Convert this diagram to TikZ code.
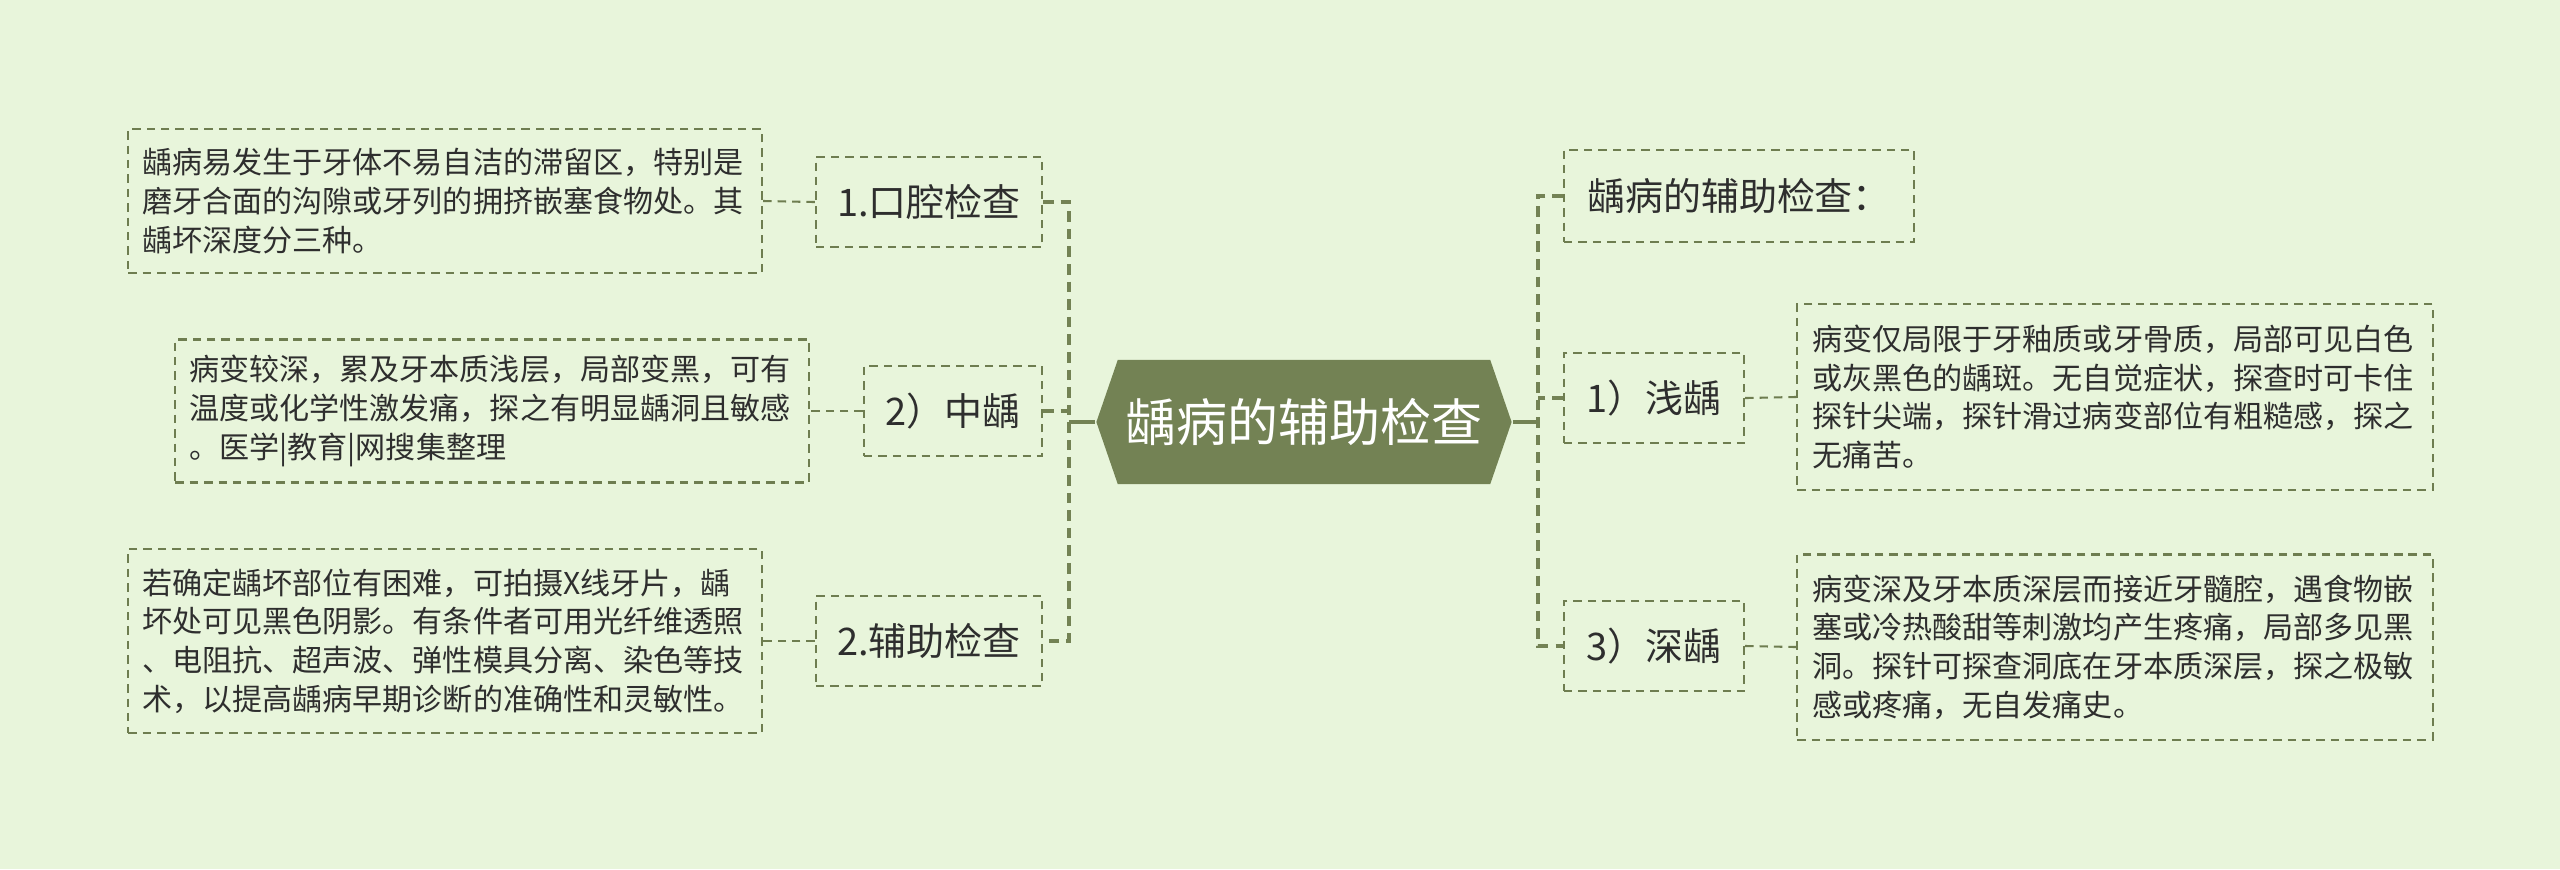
\documentclass[tikz,border=0pt]{standalone}
\usepackage{fontspec}
\setmainfont{Noto Sans CJK SC}
\usepackage{xcolor}
\usepackage{tikz}
\usetikzlibrary{calc,shapes.symbols}
\definecolor{bgcol}{HTML}{E8F5DB}
\definecolor{olive}{HTML}{738254}
\definecolor{linecol}{HTML}{6E7D50}
\definecolor{txtcol}{HTML}{2E2E2E}

\begin{document}
\begin{tikzpicture}[x=0.01cm,y=-0.01cm,line width=0.6pt,
    dashbox/.style={draw=linecol,dash pattern=on 2.4pt off 1.7pt,inner sep=0pt,text=txtcol,align=center},
    topic/.style={dashbox,minimum height=0.90cm,font=\fontsize{10.8}{13}\selectfont},
    note/.style={dashbox,align=left,inner xsep=0.14cm,text width=6.05cm,font=\fontsize{8.55}{11}\selectfont},
    link/.style={draw=linecol,dash pattern=on 2.4pt off 1.7pt},
    spine/.style={draw=olive,line width=1.3pt,dash pattern=on 3pt off 2pt}]
    \fill[bgcol] (0,0) rectangle (2560,869);
    \useasboundingbox (0,0) rectangle (2560,869);
    % centre
    \node[signal,signal to=west and east,signal pointer angle=142,fill=olive,
      minimum width=4.15cm,minimum height=1.24cm,inner sep=0pt,text=white,
      font=\fontsize{14.5}{17}\selectfont] (root) at (1304,422) {龋病的辅助检查};
    % left side
    \node[topic,minimum width=2.26cm] (k1) at (929,202) {1.口腔检查};
    \node[topic,minimum width=1.78cm] (k2) at (953,411) {2）中龋};
    \node[topic,minimum width=2.26cm] (k3) at (929,641) {2.辅助检查};
    \node[note,minimum height=1.44cm] (d1) at (445,201) {龋病易发生于牙体不易自洁的滞留区，特别是\\磨牙合面的沟隙或牙列的拥挤嵌塞食物处。其\\龋坏深度分三种。};
    \node[note,minimum height=1.43cm] (d2) at (492,411) {病变较深，累及牙本质浅层，局部变黑，可有\\温度或化学性激发痛，探之有明显龋洞且敏感\\。医学|教育|网搜集整理};
    \node[note,minimum height=1.84cm] (d3) at (445,641) {若确定龋坏部位有困难，可拍摄X线牙片，龋\\坏处可见黑色阴影。有条件者可用光纤维透照\\、电阻抗、超声波、弹性模具分离、染色等技\\术，以提高龋病早期诊断的准确性和灵敏性。};
    % right side
    \node[topic,minimum width=3.50cm,minimum height=0.92cm] (r0) at (1739,196) {龋病的辅助检查：};
    \node[topic,minimum width=1.80cm] (r1) at (1654,398) {1）浅龋};
    \node[topic,minimum width=1.80cm] (r3) at (1654,646) {3）深龋};
    \node[note,minimum height=1.86cm,inner xsep=0.15cm] (e1) at (2115,397) {病变仅局限于牙釉质或牙骨质，局部可见白色\\或灰黑色的龋斑。无自觉症状，探查时可卡住\\探针尖端，探针滑过病变部位有粗糙感，探之\\无痛苦。};
    \node[note,minimum height=1.85cm,inner xsep=0.15cm] (e3) at (2115,647) {病变深及牙本质深层而接近牙髓腔，遇食物嵌\\塞或冷热酸甜等刺激均产生疼痛，局部多见黑\\洞。探针可探查洞底在牙本质深层，探之极敏\\感或疼痛，无自发痛史。};
    % connectors
    \coordinate (lsp) at (1069,422);
    \coordinate (rsp) at (1538,422);
    \draw[olive,line width=1.3pt] (root.west) -- (lsp);
    \draw[olive,line width=1.3pt] (root.east) -- (rsp);
    \draw[spine] (k1.east) -| (lsp) |- (k3.east);
    \draw[spine] (k2.east) -- (k2.east -| lsp);
    \draw[spine] (r0.west) -| (rsp) |- (r3.west);
    \draw[spine] (r1.west) -- (r1.west -| rsp);
    \draw[link] (k1.west) -- (d1.east);
    \draw[link] (k2.west) -- (d2.east);
    \draw[link] (k3.west) -- (d3.east);
    \draw[link] (r1.east) -- (e1.west);
    \draw[link] (r3.east) -- (e3.west);
\end{tikzpicture}
\end{document}
